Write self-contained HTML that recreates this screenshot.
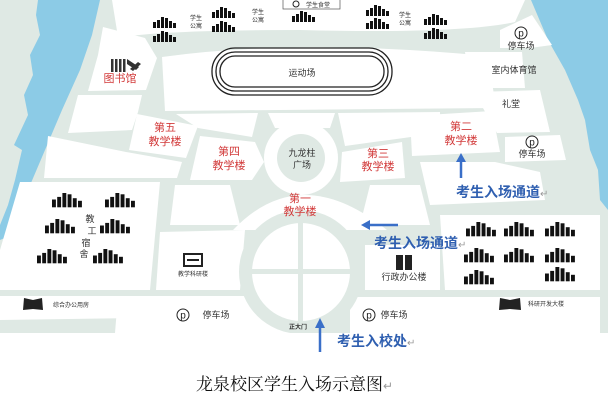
<!DOCTYPE html>
<html><head><meta charset="utf-8"><style>
body{margin:0;background:#fff;}
svg{display:block;font-family:"Liberation Sans","Noto Sans CJK SC",sans-serif;}
.r{fill:#d23a3a;font-size:11px;text-anchor:middle}
.k{fill:#333;font-size:9px;text-anchor:middle}
.s{fill:#333;font-size:6px;text-anchor:middle}
.b{fill:#2f5fb0;font-size:14px;font-weight:bold}
</style></head><body>
<svg width="608" height="403" viewBox="0 0 608 403">
<defs>
<g id="d"><rect x="0" y="5" width="3" height="6" fill="#111"/><rect x="4" y="3" width="3" height="8" fill="#111"/><rect x="8" y="0" width="3" height="11" fill="#111"/><rect x="12" y="1" width="3" height="10" fill="#111"/><rect x="16" y="4" width="3" height="7" fill="#111"/><rect x="20" y="6" width="3" height="5" fill="#111"/></g>
<g id="p"><circle r="6" fill="#fff" stroke="#222" stroke-width="1"/><text y="3.5" text-anchor="middle" font-size="10" fill="#222">p</text></g>
</defs>
<rect x="0" y="0" width="608" height="333" fill="#dfe9e4"/>
<!-- rivers -->
<path d="M38,0 L100,0 L92,35 L80,70 L62,110 L45,150 L28,190 L12,235 L0,240 L0,225 L8,205 L15,180 L22,150 L14,145 L28,115 L24,95 L33,75 L30,55 L40,35 L36,15 Z" fill="#8ccbe6"/>
<path d="M531,0 L608,0 L608,210 L600,200 L598,170 L590,150 L585,120 L578,100 L565,70 L548,40 Z" fill="#8ccbe6"/>
<!-- white blocks -->
<g fill="#fff">
<path d="M112,0 L525,0 L515,22 Q460,34 300,30 Q200,30 150,34 L118,37 Z"/>
<path d="M103,27 L145,38 L157,58 L146,90 L88,91 L98,55 Z"/>
<path d="M162,57 Q300,38 488,56 L496,108 L165,111 Z"/>
<path d="M78,95 L142,95 L138,112 L132,130 L68,133 Z"/>
<path d="M137,114 L198,126 L186,158 L129,150 Z"/>
<path d="M48,136 L126,152 L182,162 L177,178 L44,178 Z"/>
<path d="M176,114 L258,113 L252,137 L198,128 Z"/>
<path d="M200,136 L255,142 L264,162 L252,180 L190,180 Z"/>
<path d="M268,113 L335,113 L330,128 L275,128 Z"/>
<path d="M338,113 L440,112 L440,133 L345,146 Z"/>
<path d="M342,152 L402,142 L405,178 L340,182 Z"/>
<path d="M410,116 L492,111 L500,152 L412,156 Z"/>
<path d="M465,52 L522,52 L525,88 L470,88 Z"/>
<path d="M474,92 L540,90 L550,132 L497,133 Z"/>
<path d="M500,30 L532,15 L552,45 L530,48 L500,48 Z"/>
<path d="M505,137 L560,135 L566,160 L505,162 Z"/>
<path d="M420,162 L495,162 L540,172 L545,200 L430,205 Z"/>
<path d="M20,182 L160,182 L150,290 L0,290 L0,250 Z"/>
<path d="M160,232 L245,230 L240,290 L156,290 Z"/>
<path d="M0,296 L145,296 L140,318 L0,320 Z"/>
<path d="M118,296 L290,296 L290,333 L115,333 Z"/>
<path d="M365,245 L440,245 L440,290 L365,290 Z"/>
<path d="M440,215 L600,215 L600,290 L445,290 Z"/>
<path d="M350,297 L600,297 L600,333 L350,333 Z"/>
<path d="M175,185 L230,185 L240,225 L170,225 Z"/>
<path d="M370,185 L420,185 L430,225 L360,225 Z"/>
</g>
<!-- plaza -->
<circle cx="301" cy="158" r="37" fill="#fff"/><circle cx="301" cy="158" r="24" fill="#dfe9e4"/>
<path d="M233,230 Q300,160 387,230 Z" fill="#fff"/>
<circle cx="301" cy="272" r="62" fill="#dfe9e4"/>
<circle cx="301" cy="272" r="49" fill="#fff"/>
<rect x="252" y="269" width="98" height="5" fill="#dfe9e4"/><rect x="298" y="223" width="5" height="98" fill="#dfe9e4"/>
<rect x="0" y="333" width="608" height="70" fill="#fff"/>
<!-- track -->
<g fill="none" stroke="#222" stroke-width="1.3">
<rect x="212" y="48" width="180" height="47" rx="23"/>
<rect x="216" y="52" width="172" height="39" rx="19"/>
<rect x="220" y="56" width="164" height="31" rx="15"/>
</g>
<rect x="221" y="57" width="162" height="29" rx="14" fill="#fff"/>
<text x="302" y="76" class="k" font-size="11">运动场</text>
<!-- dorms -->
<use href="#d" x="153" y="17"/><use href="#d" x="153" y="31"/>
<use href="#d" x="212" y="7"/><use href="#d" x="212" y="21"/>
<use href="#d" x="366" y="5"/><use href="#d" x="366" y="18"/>
<use href="#d" x="424" y="14"/><use href="#d" x="424" y="28"/>
<use href="#d" x="292" y="11"/>
<text x="196" y="20" class="s">学生</text><text x="196" y="28" class="s">公寓</text>
<text x="258" y="14" class="s">学生</text><text x="258" y="22" class="s">公寓</text>
<text x="405" y="17" class="s">学生</text><text x="405" y="25" class="s">公寓</text>
<rect x="283" y="-1" width="57" height="10" fill="#fff" stroke="#555" stroke-width="0.7"/>
<text x="318" y="7" class="s" font-size="7">学生食堂</text><circle cx="296" cy="4" r="3" fill="none" stroke="#222"/>
<g transform="translate(52,193) scale(1.3)"><use href="#d"/></g><g transform="translate(105,193) scale(1.3)"><use href="#d"/></g>
<g transform="translate(45,219) scale(1.3)"><use href="#d"/></g><g transform="translate(100,219) scale(1.3)"><use href="#d"/></g>
<g transform="translate(37,249) scale(1.3)"><use href="#d"/></g><g transform="translate(93,249) scale(1.3)"><use href="#d"/></g>
<text x="90" y="222" class="k" font-size="10">教</text><text x="92" y="234" class="k" font-size="10">工</text><text x="86" y="246" class="k" font-size="10">宿</text><text x="84" y="257" class="k" font-size="10">舍</text>
<g transform="translate(466,222) scale(1.3)"><use href="#d"/></g><g transform="translate(504,222) scale(1.3)"><use href="#d"/></g><g transform="translate(545,222) scale(1.3)"><use href="#d"/></g>
<g transform="translate(464,248) scale(1.3)"><use href="#d"/></g><g transform="translate(504,248) scale(1.3)"><use href="#d"/></g><g transform="translate(545,248) scale(1.3)"><use href="#d"/></g>
<g transform="translate(464,270) scale(1.3)"><use href="#d"/></g><g transform="translate(545,267) scale(1.3)"><use href="#d"/></g>
<!-- library icon -->
<g fill="#333"><rect x="111" y="59" width="2.5" height="13"/><rect x="115" y="59" width="2.5" height="13"/><rect x="119" y="59" width="2.5" height="13"/><rect x="123" y="59" width="2.5" height="13"/><path d="M127,59 L139,67 L136,70 L127,64 Z"/><path d="M130,69 L138,62 L141,64 L133,71 Z"/></g>
<text x="120" y="82" class="r" font-size="10">图书馆</text>
<!-- red labels -->
<text x="165" y="131" class="r">第五</text><text x="165" y="145" class="r">教学楼</text>
<text x="229" y="155" class="r">第四</text><text x="229" y="169" class="r">教学楼</text>
<text x="302" y="156" class="k" font-size="10">九龙柱</text><text x="302" y="168" class="k" font-size="10">广场</text>
<text x="378" y="157" class="r" font-size="10">第三</text><text x="378" y="170" class="r" font-size="10">教学楼</text>
<text x="461" y="130" class="r">第二</text><text x="461" y="144" class="r">教学楼</text>
<text x="300" y="202" class="r" font-size="10">第一</text><text x="300" y="215" class="r" font-size="10">教学楼</text>
<!-- right column -->
<text x="514" y="73" class="k" font-size="7">室内体育馆</text>
<text x="511" y="107" class="k" font-size="11">礼堂</text>
<use href="#p" x="521" y="33"/><text x="521" y="49" class="k" font-size="7">停车场</text>
<use href="#p" x="532" y="142"/><text x="532" y="157" class="k" font-size="7">停车场</text>
<!-- lower icons -->
<rect x="184" y="254" width="18" height="12" fill="#fff" stroke="#222" stroke-width="2"/><rect x="187" y="259" width="12" height="2" fill="#222"/>
<text x="193" y="276" class="s" font-size="6.5">教学科研楼</text>
<path d="M24,298 L33,300 L42,298 L43,310 L33,309 L23,310 Z" fill="#222"/>
<text x="71" y="307" class="s">综合办公用房</text>
<use href="#p" x="183" y="315"/><text x="216" y="318" class="k" font-size="8">停车场</text>
<rect x="396" y="255" width="7" height="15" fill="#222"/><rect x="405" y="255" width="7" height="15" fill="#222"/>
<text x="404" y="280" class="k" font-size="8">行政办公楼</text>
<path d="M500,298 L510,300 L520,298 L521,310 L510,309 L499,310 Z" fill="#222"/>
<text x="546" y="306" class="s">科研开发大楼</text>
<use href="#p" x="369" y="315"/><text x="394" y="318" class="k" font-size="8">停车场</text>
<text x="298" y="329" class="s" font-size="7" font-weight="bold" fill="#111">正大门</text>
<!-- blue arrows -->
<g fill="#3a6fc8" stroke="#3a6fc8">
<line x1="461" y1="178" x2="461" y2="160" stroke-width="2.5"/><path d="M456,162 L461,153 L466,162 Z" stroke="none"/>
<line x1="398" y1="225" x2="368" y2="225" stroke-width="2.5"/><path d="M370,220 L361,225 L370,230 Z" stroke="none"/>
<line x1="320" y1="352" x2="320" y2="326" stroke-width="2.5"/><path d="M315,328 L320,318 L325,328 Z" stroke="none"/>
</g>
<text x="456" y="197" class="b">考生入场通道<tspan fill="#999" font-weight="normal" font-size="10">↵</tspan></text>
<text x="374" y="248" class="b">考生入场通道<tspan fill="#999" font-weight="normal" font-size="10">↵</tspan></text>
<text x="337" y="346" class="b">考生入校处<tspan fill="#999" font-weight="normal" font-size="10">↵</tspan></text>
<text x="196" y="390" font-family="'Liberation Serif','Noto Serif CJK SC',serif" font-size="17" fill="#111">龙泉校区学生入场示意图<tspan fill="#999" font-size="12">↵</tspan></text>
</svg>
</body></html>
